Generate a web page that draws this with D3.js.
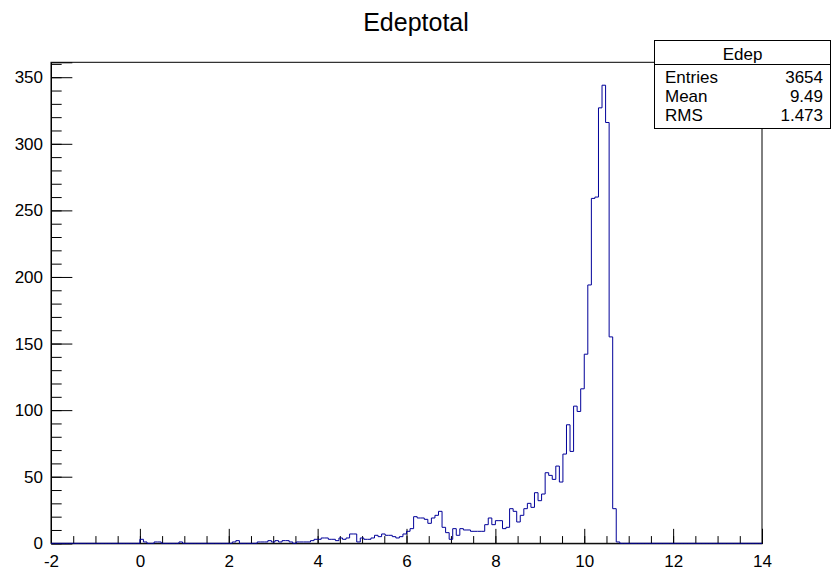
<!DOCTYPE html>
<html>
<head>
<meta charset="utf-8">
<script src="https://cdn.jsdelivr.net/npm/d3@7"></script>
<style>
  body { margin: 0; background: #fff; }
  text { font-family: "Liberation Sans", Arial, Helvetica, sans-serif; }
</style>
</head>
<body>
<div id="chart"></div>
<script>
// histogram settings
const xMin = -2, xMax = 14, binWidth = 0.08;
const counts = [
  0,0,0,0,0,0,0,0,0,0,0,0,0,0,0,0,0,0,0,0,
  0,0,0,0,0,3,1,0,0,1,1,0,0,0,0,0,1,0,0,0,
  0,0,0,0,0,0,0,0,0,0,0,1,2,0,0,0,0,0,1,1,
  1,2,1,2,1,2,2,1,0,1,1,1,1,2,3,3,4,4,3,3,
  2,4,3,4,7,7,1,4,3,3,4,6,5,7,6,6,5,4,5,7,
  9,11,20,19,19,18,15,19,21,24,12,8,3,11,6,11,10,10,9,9,
  9,9,14,19,14,17,17,11,12,26,24,16,21,26,30,27,38,32,37,53,
  51,48,58,46,67,89,69,103,99,116,142,194,259,260,327,344,316,155,26,1,
  0,0,0,0,0,0,0,0,0,0,0,0,0,0,0,0,0,0,0,0,
  0,0,0,0,0,0,0,0,0,0,0,0,0,0,0,0,0,0,0,0
];
const xMajor = [-2, 0, 2, 4, 6, 8, 10, 12, 14];
const yMajor = [0, 50, 100, 150, 200, 250, 300, 350];
const statLabels = ["Entries", "Mean", "RMS"];
const statValues = ["3654", "9.49", "1.473"];
const histTitle = "Edeptotal";
const statsName = "Edep";

const svgWidth = 832, svgHeight = 572;
const frame = { left: 51, right: 762, top: 62.3, bottom: 543.3 };

const svg = d3.select("#chart").append("svg")
  .attr("width", svgWidth)
  .attr("height", svgHeight);

const yTop = d3.max(counts) * 1.05;

const xScale = d3.scaleLinear().domain([xMin, xMax]).range([frame.left, frame.right]);
const yScale = d3.scaleLinear().domain([0, yTop]).range([frame.bottom, frame.top]);

// frame
svg.append("rect")
  .attr("x", frame.left).attr("y", frame.top)
  .attr("width", frame.right - frame.left)
  .attr("height", frame.bottom - frame.top)
  .attr("fill", "none").attr("stroke", "#000").attr("stroke-width", 1);

const fh = frame.bottom - frame.top, fw = frame.right - frame.left;

// x axis: minor then major ticks, pointing inside
const xMinor = d3.range(xMin, xMax + 0.001, 0.5);
svg.append("g")
  .attr("transform", `translate(0, ${frame.bottom})`)
  .call(d3.axisBottom(xScale).tickValues(xMinor).tickSize(-0.015 * fh).tickFormat(""))
  .call(g => g.select(".domain").remove());

svg.append("g")
  .attr("transform", `translate(0, ${frame.bottom})`)
  .call(d3.axisBottom(xScale).tickValues(xMajor).tickSize(-0.03 * fh).tickPadding(11.5).tickFormat(d => String(d)))
  .call(g => g.select(".domain").attr("stroke", "#000"))
  .call(g => g.selectAll("text").attr("font-size", 17).attr("font-family", "Liberation Sans, Arial, sans-serif").attr("fill", "#000"));

// y axis
const yMinor = d3.range(0, yTop, 10);
svg.append("g")
  .attr("transform", `translate(${frame.left}, 0)`)
  .call(d3.axisLeft(yScale).tickValues(yMinor).tickSize(-0.015 * fw).tickFormat(""))
  .call(g => g.select(".domain").remove());

svg.append("g")
  .attr("transform", `translate(${frame.left}, 0)`)
  .call(d3.axisLeft(yScale).tickValues(yMajor).tickSize(-0.03 * fw).tickPadding(8).tickFormat(d => String(d)))
  .call(g => g.select(".domain").attr("stroke", "#000"))
  .call(g => g.selectAll("text").attr("font-size", 17).attr("font-family", "Liberation Sans, Arial, sans-serif").attr("fill", "#000"));

svg.selectAll(".tick line").attr("stroke", "#000");

// histogram outline
const pts = counts.map((c, i) => [xMin + i * binWidth, c]);
pts.unshift([xMin, 0]);
pts.push([xMin + counts.length * binWidth, counts[counts.length - 1]]);

const line = d3.line()
  .x(d => xScale(d[0]))
  .y(d => yScale(d[1]))
  .curve(d3.curveStepAfter);

svg.append("path")
  .datum(pts)
  .attr("d", line)
  .attr("fill", "none")
  .attr("stroke", "#000099")
  .attr("stroke-width", 1);

// title
svg.append("text")
  .attr("x", 416).attr("y", 31)
  .attr("text-anchor", "middle")
  .attr("font-size", 25)
  .text(histTitle);

// stats box
const box = { x: 654.5, y: 40.5, w: 176, h: 88 };
const sb = svg.append("g");
sb.append("rect")
  .attr("x", box.x).attr("y", box.y)
  .attr("width", box.w).attr("height", box.h)
  .attr("fill", "#fff").attr("stroke", "#000");
sb.append("line")
  .attr("x1", box.x).attr("x2", box.x + box.w)
  .attr("y1", 64.5).attr("y2", 64.5)
  .attr("stroke", "#000");
sb.append("text")
  .attr("x", box.x + box.w / 2).attr("y", 60)
  .attr("text-anchor", "middle")
  .attr("font-size", 17)
  .text(statsName);
statLabels.forEach((lab, i) => {
  sb.append("text")
    .attr("x", 665).attr("y", 83 + i * 19)
    .attr("font-size", 17)
    .text(lab);
  sb.append("text")
    .attr("x", 823).attr("y", 83 + i * 19)
    .attr("text-anchor", "end")
    .attr("font-size", 17)
    .text(statValues[i]);
});
</script>
</body>
</html>
